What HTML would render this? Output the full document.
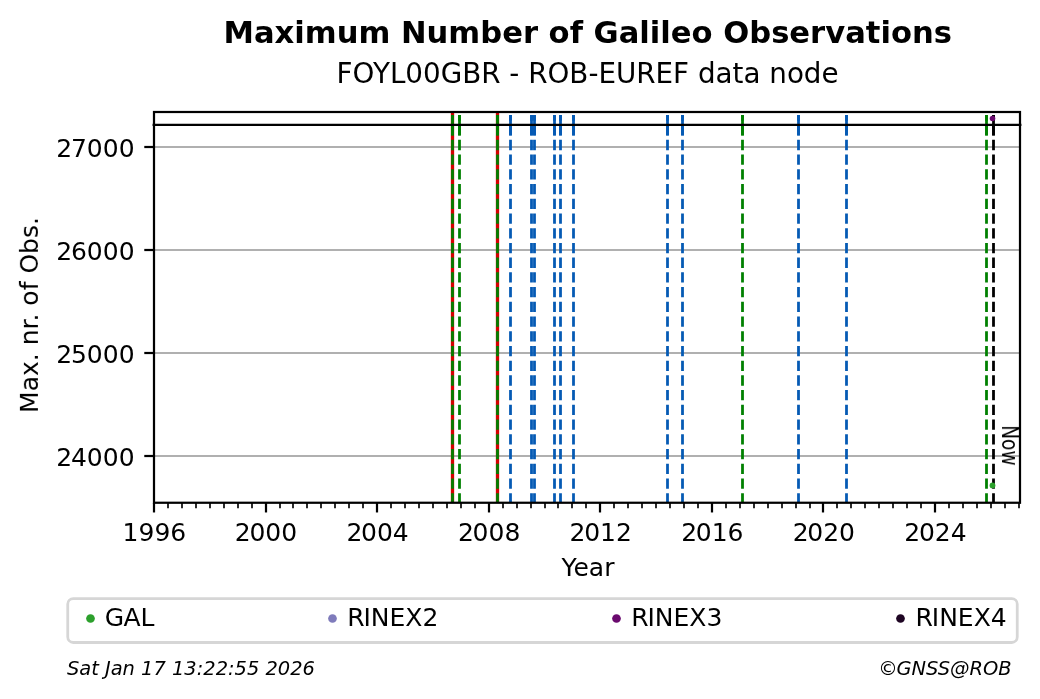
<!DOCTYPE html>
<html lang="en"><head><meta charset="utf-8"><title>Maximum Number of Galileo Observations</title>
<style>
html,body{margin:0;padding:0;background:#fff;}
body{width:1040px;height:699px;overflow:hidden;}
svg{display:block;}
text{font-family:"DejaVu Sans","Liberation Sans",sans-serif;fill:#000;}
</style></head><body>
<div id="fig" style="width:1040px;height:699px;will-change:transform">
<svg width="1040" height="699" viewBox="0 0 1040 699">
<defs><mask id="tm" maskUnits="userSpaceOnUse" x="0" y="0" width="1040" height="699"><rect x="0" y="0" width="1040" height="699" fill="#fff"/></mask></defs>
<rect x="0" y="0" width="1040" height="699" fill="#ffffff"/>

<g stroke="#b0b0b0" stroke-width="2.22" fill="none">
<line x1="154.0" y1="147" x2="1020.0" y2="147"/>
<line x1="154.0" y1="250" x2="1020.0" y2="250"/>
<line x1="154.0" y1="353" x2="1020.0" y2="353"/>
<line x1="154.0" y1="456" x2="1020.0" y2="456"/>
</g>
<g fill="none">
<line x1="452.5" y1="502.75" x2="452.5" y2="112.0" stroke="#d60000" stroke-width="3.3"/>
<line x1="497.5" y1="502.75" x2="497.5" y2="112.0" stroke="#d60000" stroke-width="3.3"/>
<line x1="452.5" y1="502.75" x2="452.5" y2="115.0" stroke="#008000" stroke-width="2.78" stroke-dasharray="10.28 4.44" stroke-dashoffset="0.655"/>
<line x1="452.5" y1="135.4" x2="452.5" y2="115.0" stroke="#008000" stroke-width="2.78"/>
<line x1="459.5" y1="502.75" x2="459.5" y2="115.0" stroke="#008000" stroke-width="2.78" stroke-dasharray="10.28 4.44" stroke-dashoffset="0.655"/>
<line x1="459.5" y1="135.4" x2="459.5" y2="115.0" stroke="#008000" stroke-width="2.78"/>
<line x1="497.5" y1="502.75" x2="497.5" y2="115.0" stroke="#008000" stroke-width="2.78" stroke-dasharray="10.28 4.44" stroke-dashoffset="0.655"/>
<line x1="497.5" y1="135.4" x2="497.5" y2="115.0" stroke="#008000" stroke-width="2.78"/>
<line x1="742.5" y1="502.75" x2="742.5" y2="115.0" stroke="#008000" stroke-width="2.78" stroke-dasharray="10.28 4.44" stroke-dashoffset="0.655"/>
<line x1="742.5" y1="135.4" x2="742.5" y2="115.0" stroke="#008000" stroke-width="2.78"/>
<line x1="986.5" y1="502.75" x2="986.5" y2="115.0" stroke="#008000" stroke-width="2.78" stroke-dasharray="10.28 4.44" stroke-dashoffset="0.655"/>
<line x1="986.5" y1="135.4" x2="986.5" y2="115.0" stroke="#008000" stroke-width="2.78"/>
<line x1="510.5" y1="502.75" x2="510.5" y2="115.0" stroke="#055ab4" stroke-width="2.78" stroke-dasharray="10.28 4.44" stroke-dashoffset="0.655"/>
<line x1="510.5" y1="135.4" x2="510.5" y2="115.0" stroke="#055ab4" stroke-width="2.78"/>
<line x1="531.5" y1="502.75" x2="531.5" y2="115.0" stroke="#055ab4" stroke-width="2.78" stroke-dasharray="10.28 4.44" stroke-dashoffset="0.655"/>
<line x1="531.5" y1="135.4" x2="531.5" y2="115.0" stroke="#055ab4" stroke-width="2.78"/>
<line x1="534.5" y1="502.75" x2="534.5" y2="115.0" stroke="#055ab4" stroke-width="2.78" stroke-dasharray="10.28 4.44" stroke-dashoffset="0.655"/>
<line x1="534.5" y1="135.4" x2="534.5" y2="115.0" stroke="#055ab4" stroke-width="2.78"/>
<line x1="554.5" y1="502.75" x2="554.5" y2="115.0" stroke="#055ab4" stroke-width="2.78" stroke-dasharray="10.28 4.44" stroke-dashoffset="0.655"/>
<line x1="554.5" y1="135.4" x2="554.5" y2="115.0" stroke="#055ab4" stroke-width="2.78"/>
<line x1="560.5" y1="502.75" x2="560.5" y2="115.0" stroke="#055ab4" stroke-width="2.78" stroke-dasharray="10.28 4.44" stroke-dashoffset="0.655"/>
<line x1="560.5" y1="135.4" x2="560.5" y2="115.0" stroke="#055ab4" stroke-width="2.78"/>
<line x1="573.5" y1="502.75" x2="573.5" y2="115.0" stroke="#055ab4" stroke-width="2.78" stroke-dasharray="10.28 4.44" stroke-dashoffset="0.655"/>
<line x1="573.5" y1="135.4" x2="573.5" y2="115.0" stroke="#055ab4" stroke-width="2.78"/>
<line x1="667.5" y1="502.75" x2="667.5" y2="115.0" stroke="#055ab4" stroke-width="2.78" stroke-dasharray="10.28 4.44" stroke-dashoffset="0.655"/>
<line x1="667.5" y1="135.4" x2="667.5" y2="115.0" stroke="#055ab4" stroke-width="2.78"/>
<line x1="682.5" y1="502.75" x2="682.5" y2="115.0" stroke="#055ab4" stroke-width="2.78" stroke-dasharray="10.28 4.44" stroke-dashoffset="0.655"/>
<line x1="682.5" y1="135.4" x2="682.5" y2="115.0" stroke="#055ab4" stroke-width="2.78"/>
<line x1="798.5" y1="502.75" x2="798.5" y2="115.0" stroke="#055ab4" stroke-width="2.78" stroke-dasharray="10.28 4.44" stroke-dashoffset="0.655"/>
<line x1="798.5" y1="135.4" x2="798.5" y2="115.0" stroke="#055ab4" stroke-width="2.78"/>
<line x1="846.5" y1="502.75" x2="846.5" y2="115.0" stroke="#055ab4" stroke-width="2.78" stroke-dasharray="10.28 4.44" stroke-dashoffset="0.655"/>
<line x1="846.5" y1="135.4" x2="846.5" y2="115.0" stroke="#055ab4" stroke-width="2.78"/>
<line x1="993.5" y1="502.75" x2="993.5" y2="115.0" stroke="#000000" stroke-width="2.78" stroke-dasharray="10.28 4.44" stroke-dashoffset="0.655"/>
<line x1="993.5" y1="135.4" x2="993.5" y2="115.0" stroke="#000000" stroke-width="2.78"/>
</g>
<line x1="152.6" y1="124.95" x2="1021.4" y2="124.95" stroke="#000" stroke-width="2.3"/>
<circle cx="992.5" cy="485.4" r="2.9" fill="#2ca02c"/>
<circle cx="992.5" cy="118.5" r="2.8" fill="#6a0a6e"/>
<rect x="154.0" y="112.0" width="866.0" height="390.75" fill="none" stroke="#000" stroke-width="2.22"/>
<g stroke="#000" fill="none">
<line x1="154.00" y1="502.75" x2="154.00" y2="512.47" stroke-width="2.22"/>
<line x1="168.00" y1="502.75" x2="168.00" y2="508.31" stroke-width="1.67"/>
<line x1="182.00" y1="502.75" x2="182.00" y2="508.31" stroke-width="1.67"/>
<line x1="196.00" y1="502.75" x2="196.00" y2="508.31" stroke-width="1.67"/>
<line x1="210.00" y1="502.75" x2="210.00" y2="508.31" stroke-width="1.67"/>
<line x1="224.00" y1="502.75" x2="224.00" y2="508.31" stroke-width="1.67"/>
<line x1="238.00" y1="502.75" x2="238.00" y2="508.31" stroke-width="1.67"/>
<line x1="252.00" y1="502.75" x2="252.00" y2="508.31" stroke-width="1.67"/>
<line x1="266.00" y1="502.75" x2="266.00" y2="512.47" stroke-width="2.22"/>
<line x1="280.00" y1="502.75" x2="280.00" y2="508.31" stroke-width="1.67"/>
<line x1="293.00" y1="502.75" x2="293.00" y2="508.31" stroke-width="1.67"/>
<line x1="307.00" y1="502.75" x2="307.00" y2="508.31" stroke-width="1.67"/>
<line x1="321.00" y1="502.75" x2="321.00" y2="508.31" stroke-width="1.67"/>
<line x1="335.00" y1="502.75" x2="335.00" y2="508.31" stroke-width="1.67"/>
<line x1="349.00" y1="502.75" x2="349.00" y2="508.31" stroke-width="1.67"/>
<line x1="363.00" y1="502.75" x2="363.00" y2="508.31" stroke-width="1.67"/>
<line x1="377.00" y1="502.75" x2="377.00" y2="512.47" stroke-width="2.22"/>
<line x1="391.00" y1="502.75" x2="391.00" y2="508.31" stroke-width="1.67"/>
<line x1="405.00" y1="502.75" x2="405.00" y2="508.31" stroke-width="1.67"/>
<line x1="419.00" y1="502.75" x2="419.00" y2="508.31" stroke-width="1.67"/>
<line x1="433.00" y1="502.75" x2="433.00" y2="508.31" stroke-width="1.67"/>
<line x1="447.00" y1="502.75" x2="447.00" y2="508.31" stroke-width="1.67"/>
<line x1="461.00" y1="502.75" x2="461.00" y2="508.31" stroke-width="1.67"/>
<line x1="475.00" y1="502.75" x2="475.00" y2="508.31" stroke-width="1.67"/>
<line x1="489.00" y1="502.75" x2="489.00" y2="512.47" stroke-width="2.22"/>
<line x1="503.00" y1="502.75" x2="503.00" y2="508.31" stroke-width="1.67"/>
<line x1="517.00" y1="502.75" x2="517.00" y2="508.31" stroke-width="1.67"/>
<line x1="531.00" y1="502.75" x2="531.00" y2="508.31" stroke-width="1.67"/>
<line x1="545.00" y1="502.75" x2="545.00" y2="508.31" stroke-width="1.67"/>
<line x1="558.00" y1="502.75" x2="558.00" y2="508.31" stroke-width="1.67"/>
<line x1="572.00" y1="502.75" x2="572.00" y2="508.31" stroke-width="1.67"/>
<line x1="586.00" y1="502.75" x2="586.00" y2="508.31" stroke-width="1.67"/>
<line x1="600.00" y1="502.75" x2="600.00" y2="512.47" stroke-width="2.22"/>
<line x1="614.00" y1="502.75" x2="614.00" y2="508.31" stroke-width="1.67"/>
<line x1="628.00" y1="502.75" x2="628.00" y2="508.31" stroke-width="1.67"/>
<line x1="642.00" y1="502.75" x2="642.00" y2="508.31" stroke-width="1.67"/>
<line x1="656.00" y1="502.75" x2="656.00" y2="508.31" stroke-width="1.67"/>
<line x1="670.00" y1="502.75" x2="670.00" y2="508.31" stroke-width="1.67"/>
<line x1="684.00" y1="502.75" x2="684.00" y2="508.31" stroke-width="1.67"/>
<line x1="698.00" y1="502.75" x2="698.00" y2="508.31" stroke-width="1.67"/>
<line x1="712.00" y1="502.75" x2="712.00" y2="512.47" stroke-width="2.22"/>
<line x1="726.00" y1="502.75" x2="726.00" y2="508.31" stroke-width="1.67"/>
<line x1="740.00" y1="502.75" x2="740.00" y2="508.31" stroke-width="1.67"/>
<line x1="754.00" y1="502.75" x2="754.00" y2="508.31" stroke-width="1.67"/>
<line x1="768.00" y1="502.75" x2="768.00" y2="508.31" stroke-width="1.67"/>
<line x1="782.00" y1="502.75" x2="782.00" y2="508.31" stroke-width="1.67"/>
<line x1="796.00" y1="502.75" x2="796.00" y2="508.31" stroke-width="1.67"/>
<line x1="810.00" y1="502.75" x2="810.00" y2="508.31" stroke-width="1.67"/>
<line x1="823.00" y1="502.75" x2="823.00" y2="512.47" stroke-width="2.22"/>
<line x1="837.00" y1="502.75" x2="837.00" y2="508.31" stroke-width="1.67"/>
<line x1="851.00" y1="502.75" x2="851.00" y2="508.31" stroke-width="1.67"/>
<line x1="865.00" y1="502.75" x2="865.00" y2="508.31" stroke-width="1.67"/>
<line x1="879.00" y1="502.75" x2="879.00" y2="508.31" stroke-width="1.67"/>
<line x1="893.00" y1="502.75" x2="893.00" y2="508.31" stroke-width="1.67"/>
<line x1="907.00" y1="502.75" x2="907.00" y2="508.31" stroke-width="1.67"/>
<line x1="921.00" y1="502.75" x2="921.00" y2="508.31" stroke-width="1.67"/>
<line x1="935.00" y1="502.75" x2="935.00" y2="512.47" stroke-width="2.22"/>
<line x1="949.00" y1="502.75" x2="949.00" y2="508.31" stroke-width="1.67"/>
<line x1="963.00" y1="502.75" x2="963.00" y2="508.31" stroke-width="1.67"/>
<line x1="977.00" y1="502.75" x2="977.00" y2="508.31" stroke-width="1.67"/>
<line x1="991.00" y1="502.75" x2="991.00" y2="508.31" stroke-width="1.67"/>
<line x1="1005.00" y1="502.75" x2="1005.00" y2="508.31" stroke-width="1.67"/>
<line x1="1019.00" y1="502.75" x2="1019.00" y2="508.31" stroke-width="1.67"/>
<line x1="154.0" y1="147" x2="144.28" y2="147" stroke-width="2.22"/>
<line x1="154.0" y1="250" x2="144.28" y2="250" stroke-width="2.22"/>
<line x1="154.0" y1="353" x2="144.28" y2="353" stroke-width="2.22"/>
<line x1="154.0" y1="456" x2="144.28" y2="456" stroke-width="2.22"/>
</g>
<rect x="67.75" y="598.6" width="949.5" height="43.9" rx="5.5" ry="5.5" fill="#fff" stroke="#d6d6d6" stroke-width="2.78"/>
<circle cx="90.5" cy="618.5" r="4.35" fill="#2ca02c"/>
<circle cx="332.5" cy="618.5" r="4.35" fill="#7f7bbb"/>
<circle cx="616.5" cy="618.5" r="4.35" fill="#6a0a6e"/>
<circle cx="900.5" cy="618.5" r="4.35" fill="#1e0523"/>
<g mask="url(#tm)">
<g font-size="25px">
<text x="154.40" y="540.8" text-anchor="middle">1996</text>
<text x="265.98" y="540.8" text-anchor="middle" dx="0 -1.3">2000</text>
<text x="377.56" y="540.8" text-anchor="middle" dx="0 -1.3">2004</text>
<text x="489.14" y="540.8" text-anchor="middle" dx="0 -1.3">2008</text>
<text x="600.72" y="540.8" text-anchor="middle" dx="0 -1.3">2012</text>
<text x="712.30" y="540.8" text-anchor="middle" dx="0 -1.3">2016</text>
<text x="823.88" y="540.8" text-anchor="middle" dx="0 -1.3">2020</text>
<text x="935.46" y="540.8" text-anchor="middle" dx="0 -1.3">2024</text>
<text x="134.6" y="156.5" text-anchor="end" dx="0 -1.2">27000</text>
<text x="134.6" y="259.5" text-anchor="end" dx="0 -1.2">26000</text>
<text x="134.6" y="362.5" text-anchor="end" dx="0 -1.2">25000</text>
<text x="134.6" y="465.5" text-anchor="end" dx="0 -1.2">24000</text>
<text x="588" y="575.6" text-anchor="middle">Year</text>
<text transform="translate(37.9,315) rotate(-90)" text-anchor="middle">Max. nr. of Obs.</text>
</g>
<text x="587.6" y="82.5" text-anchor="middle" font-size="27.78px">FOYL00GBR - ROB-EUREF data node</text>
<text x="587.7" y="42.5" text-anchor="middle" font-size="30.6px" font-weight="bold">Maximum Number of Galileo Observations</text>
<text transform="translate(1002.0,425.2) rotate(90) scale(0.835,1)" font-size="22.22px">Now</text>
<text x="104.7" y="625.8" font-size="25px" dx="0 -0.7">GAL</text>
<text x="347.3" y="625.8" font-size="25px" dx="0 -1.2">RINEX2</text>
<text x="631.3" y="625.8" font-size="25px" dx="0 -1.2">RINEX3</text>
<text x="915.6" y="625.8" font-size="25px" dx="0 -1.2">RINEX4</text>
<text x="66.9" y="675.1" font-size="19.44px" font-style="italic">Sat Jan 17 13:22:55 2026</text>
<text x="1011.7" y="674.6" font-size="19.44px" font-style="italic" text-anchor="end" dx="0 -1.1">©GNSS@ROB</text>
</g>
</svg>
</div>
</body></html>
